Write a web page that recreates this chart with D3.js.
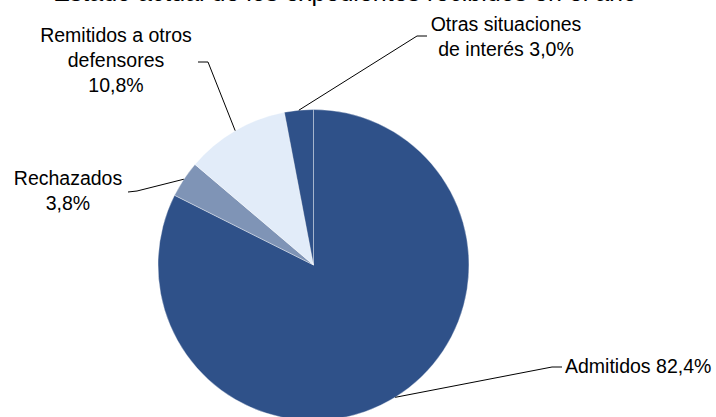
<!DOCTYPE html>
<html>
<head>
<meta charset="utf-8">
<script src="https://d3js.org/d3.v7.min.js"></script>
<style>
  body { margin: 0; background: #fff; }
  svg text { font-family: "Liberation Sans", Arial, sans-serif; fill: #000; }
  .lead { fill: none; stroke: #000; stroke-width: 1; }
</style>
</head>
<body>
<div id="chart"></div>
<script>
// datos del gráfico
var categorias = ["Admitidos", "Rechazados", "Remitidos a otros defensores", "Otras situaciones de interés"];
var valores = [82.4, 3.8, 10.8, 3.0];
var colores = ["#2f5189", "#7f94b6", "#e2ecf9", "#2f5189"];
// texto de cada etiqueta, por líneas
var etiquetas = [
  ["Admitidos 82,4%"],
  ["Rechazados", "3,8%"],
  ["Remitidos a otros", "defensores", "10,8%"],
  ["Otras situaciones", "de interés 3,0%"]
];
var titulo = "Estado actual de los expedientes recibidos en el año";

var width = 716, height = 417;
var cx = 313.5, cy = 265, radio = 155.5;

// posición de las etiquetas y codos de las líneas guía
var layout = [
  { x: 565, y: 373, anchor: "start", codo: [552, 367], fin: [562, 367] },
  { x: 68, y: 185, anchor: "middle", codo: [137, 191], fin: [128, 192] },
  { x: 116, y: 42, anchor: "middle", codo: [208, 62], fin: [198, 62] },
  { x: 506, y: 31, anchor: "middle", codo: [417, 36], fin: [427, 36] }
];
var lineaAlto = 25;

var svg = d3.select("#chart").append("svg")
  .attr("width", width)
  .attr("height", height);

// título (cortado por arriba como en el original)
svg.append("text")
  .attr("x", 345)
  .attr("y", 0.8)
  .attr("text-anchor", "middle")
  .style("font-size", "25px")
  .text(titulo);

var pie = d3.pie().sort(null).value(function(d){ return d; });
var arcos = pie(valores);

var arc = d3.arc().innerRadius(0).outerRadius(radio);
var borde = d3.arc().innerRadius(radio).outerRadius(radio);

var g = svg.append("g")
  .attr("transform", "translate(" + cx + "," + cy + ")");

g.selectAll("path.slice")
  .data(arcos)
  .enter()
  .append("path")
  .attr("class", "slice")
  .attr("d", arc)
  .attr("fill", function(d, i){ return colores[i]; })
  .attr("stroke", "rgba(255,255,255,0.45)")
  .attr("stroke-width", 0.8);

// líneas guía
svg.selectAll("path.lead")
  .data(arcos)
  .enter()
  .append("path")
  .attr("class", "lead")
  .attr("d", function(d, i){
    var p = borde.centroid(d);
    var l = layout[i];
    return "M" + (cx + p[0]) + "," + (cy + p[1]) +
      "L" + l.codo[0] + "," + l.codo[1] +
      "L" + l.fin[0] + "," + l.fin[1];
  });

// etiquetas
etiquetas.forEach(function(lineas, i){
  var l = layout[i];
  var t = svg.append("text")
    .attr("text-anchor", l.anchor)
    .style("font-size", "19.5px");
  lineas.forEach(function(s, j){
    t.append("tspan")
      .attr("x", l.x)
      .attr("y", l.y + j * lineaAlto)
      .text(s);
  });
});
</script>
</body>
</html>
